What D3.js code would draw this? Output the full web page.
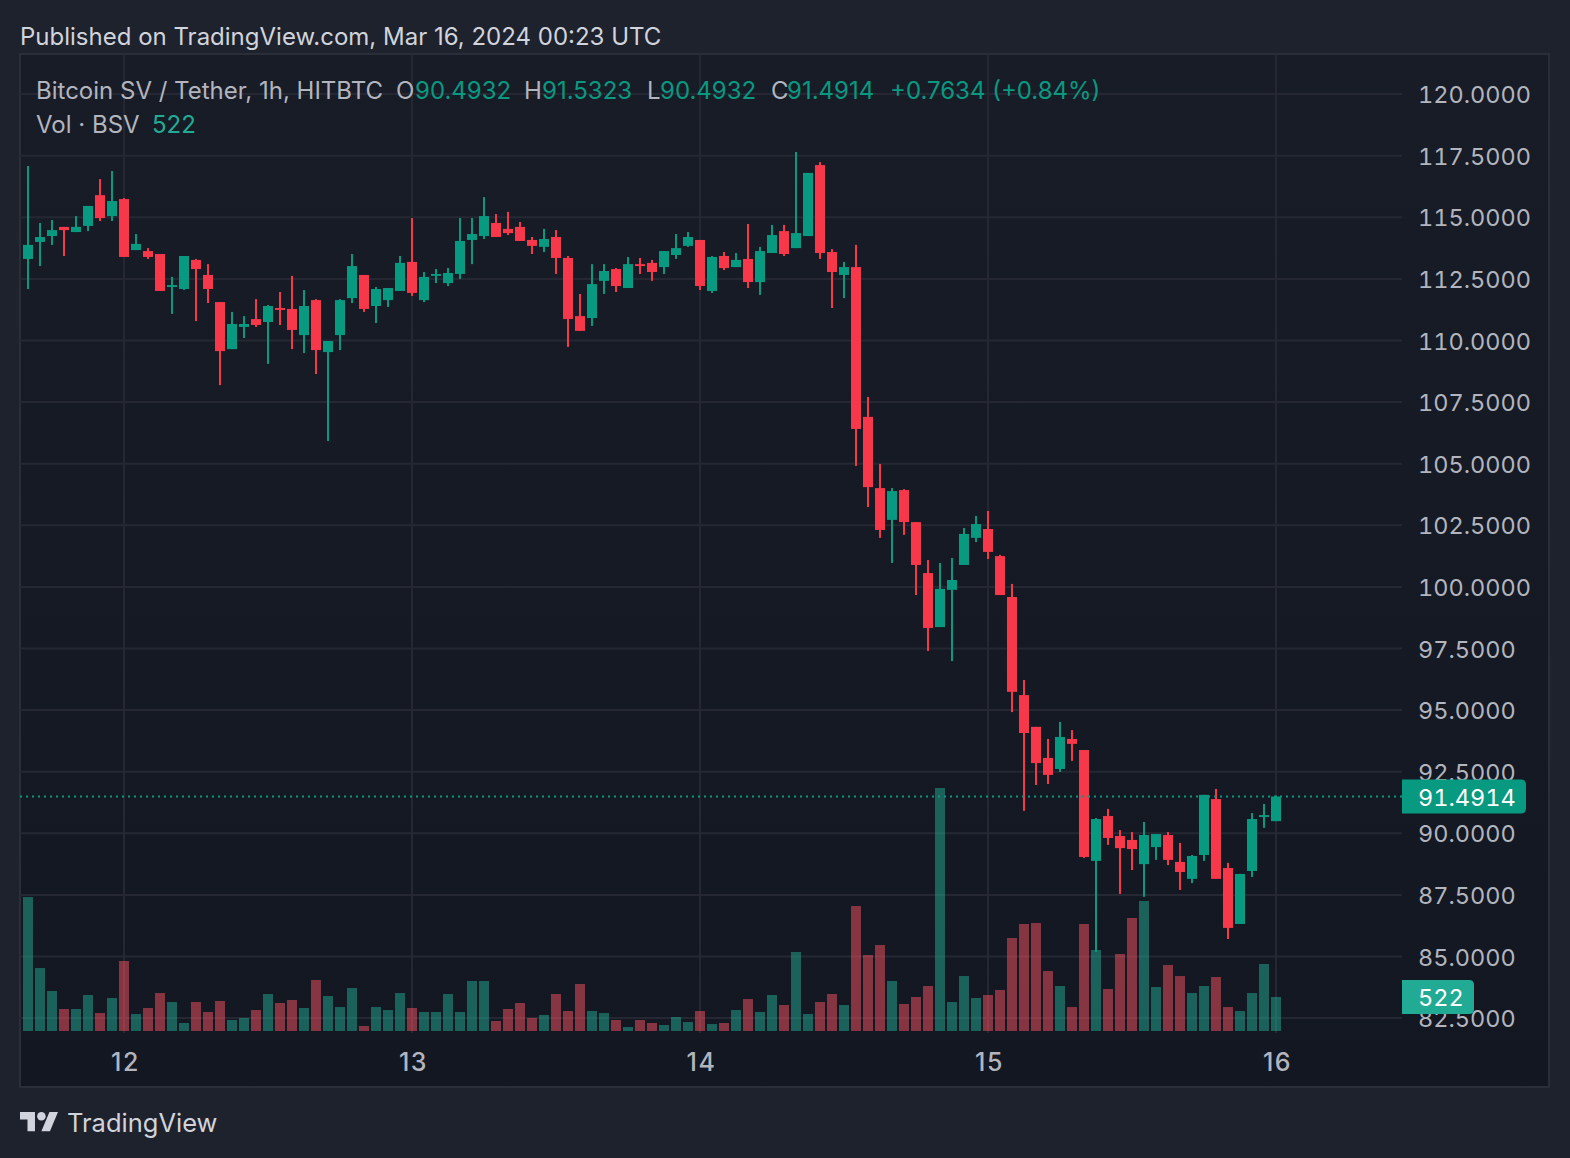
<!DOCTYPE html>
<html>
<head>
<meta charset="utf-8">
<script src="https://cdn.jsdelivr.net/npm/d3@7"></script>
<style>
  html, body { margin: 0; padding: 0; background: #1e222d; }
  svg { display: block; }
  text { font-family: Inter, "Noto Sans", sans-serif; }
  .price-text { font-variant-numeric: tabular-nums; }
  .domain { display: none; }
</style>
</head>
<body>
<svg id="drawsvg" width="1570" height="1158"></svg>
<script>
// hourly candles, Mar 11 16:00 -> Mar 16 00:00 UTC
var opens = [113.31,114.00,114.24,114.61,114.40,114.65,115.90,115.05,115.74,113.67,113.63,113.51,112.17,112.09,113.27,112.66,111.56,109.65,110.55,110.87,110.75,111.32,111.28,110.22,111.64,109.53,110.22,111.72,112.66,111.40,111.64,112.01,113.19,111.64,112.62,112.33,112.70,114.08,114.24,114.77,114.53,114.61,114.08,113.80,114.20,113.35,110.99,110.91,112.42,112.90,112.13,113.10,113.15,112.98,113.47,113.84,114.08,112.01,113.43,112.98,113.31,112.37,113.55,114.44,113.75,114.24,117.12,113.59,112.66,112.98,106.90,104.01,102.72,103.93,102.63,100.56,98.37,99.88,100.89,101.99,102.35,101.25,99.59,95.61,94.32,93.06,92.61,93.83,93.38,88.88,90.70,89.89,89.73,88.75,89.44,89.93,88.84,88.15,89.12,91.39,88.59,86.32,88.47,90.66,90.4932];
var highs = [117.08,114.77,114.89,114.61,115.05,115.46,116.55,116.88,115.78,114.32,113.75,113.51,112.58,113.43,113.31,113.10,111.56,111.16,110.99,111.68,111.44,111.97,112.62,112.05,111.68,109.98,111.68,113.51,112.66,112.17,112.13,113.43,114.97,112.78,112.90,112.94,114.97,114.97,115.82,115.13,115.22,114.81,114.20,114.53,114.48,113.43,111.89,113.10,113.10,112.94,113.39,113.35,113.27,113.63,114.32,114.40,114.08,113.43,113.59,113.55,114.73,113.80,114.69,114.69,117.65,116.80,117.24,113.71,113.19,113.88,107.71,104.99,104.01,103.97,102.63,101.09,100.97,101.17,102.39,102.88,103.08,101.30,100.12,96.22,94.32,93.83,94.52,94.19,93.38,90.62,90.99,90.13,90.05,90.46,89.97,90.05,89.61,89.12,91.56,91.80,88.80,88.35,90.82,91.19,91.5323];
var lows = [112.09,113.02,113.88,113.43,114.40,114.44,114.85,114.85,113.39,113.67,113.31,112.01,111.08,112.05,110.79,111.52,108.19,109.65,110.10,110.55,109.05,110.63,109.65,109.49,108.64,105.92,109.61,111.52,111.16,110.71,111.36,112.01,111.81,111.56,112.33,112.21,112.50,113.10,114.12,114.20,114.28,114.04,113.51,113.59,112.70,109.74,110.39,110.59,111.89,111.97,112.13,112.70,112.42,112.70,113.31,113.80,112.05,111.93,112.86,112.98,112.13,111.85,113.55,113.43,113.75,114.24,113.31,111.32,111.72,104.91,103.24,101.99,100.97,102.11,99.67,97.40,98.37,96.99,100.89,101.82,101.13,99.67,94.92,90.91,91.96,92.00,92.49,92.94,89.00,85.18,89.53,87.54,88.51,87.42,88.92,88.71,87.70,87.98,88.88,88.15,85.71,86.32,88.23,90.22,90.4932];
var closes = [113.88,114.20,114.48,114.48,114.61,115.46,114.97,115.66,113.39,113.92,113.39,112.01,112.25,113.43,112.90,112.09,109.57,110.67,110.67,110.63,111.40,111.24,110.43,111.40,109.61,109.98,111.64,113.02,111.28,112.09,112.13,113.15,111.93,112.58,112.70,112.74,114.04,114.32,115.05,114.20,114.36,114.04,113.84,114.12,113.35,110.87,110.39,112.29,112.82,112.21,113.10,113.02,112.78,113.63,113.75,114.20,112.21,113.39,112.94,113.27,112.37,113.63,114.28,113.51,114.36,116.80,113.55,112.78,112.98,106.41,104.05,102.31,103.89,102.63,100.89,98.33,99.92,100.28,102.15,102.55,101.42,99.67,95.74,94.07,92.85,92.37,93.91,93.63,89.04,90.58,89.81,89.40,89.36,89.93,89.97,88.92,88.43,89.08,91.56,88.15,86.16,88.35,90.58,90.74,91.4914];
var volumes = [2057,967,614,338,338,553,276,507,1075,261,353,583,445,123,445,292,461,169,200,322,568,430,476,353,783,537,368,660,77,368,322,583,353,292,292,568,292,768,768,154,338,430,200,246,568,307,722,307,276,169,61,169,123,92,215,138,307,107,123,322,491,292,553,399,1213,261,445,568,399,1919,1167,1320,768,415,522,691,3731,445,844,507,553,630,1428,1643,1658,921,691,368,1643,1244,645,1182,1735,1996,676,1013,844,583,691,829,368,307,583,1029,522];

var priceTicks = [120,117.5,115,112.5,110,107.5,105,102.5,100,97.5,95,92.5,90,87.5,85,82.5];
var dayIndex = [8,32,56,80,104];
var dayLabels = ['12','13','14','15','16'];

var upColor = '#089981', downColor = '#f7374a';
var volUp = 'rgba(34,171,148,0.5)', volDown = 'rgba(247,82,95,0.5)';
var gridColor = '#252833', textColor = '#b2b5be';
var lastPrice = closes[closes.length - 1], lastVol = volumes[volumes.length - 1];

var svg = d3.select('#drawsvg');

var xScale = d3.scaleLinear().domain([0, 104]).range([28, 1276]);
var yScale = d3.scaleLinear().domain([120, 82.5]).range([94.1, 1018.1]);
var volScale = d3.scaleLinear().domain([0, d3.max(volumes)]).range([1031, 788]);

var bodyWidth = 10, wickWidth = 2;
var paneL = 20, paneT = 54, paneR = 1549, paneB = 1087, plotR = 1402, axisT = 1033;

var defs = svg.append('defs');
var grad = defs.append('linearGradient').attr('id', 'paneGrad')
  .attr('x1', 0).attr('x2', 0).attr('y1', 0).attr('y2', 1);
grad.append('stop').attr('offset', '0%').attr('stop-color', '#181c27');
grad.append('stop').attr('offset', '100%').attr('stop-color', '#131722');

svg.append('rect').attr('width', 1570).attr('height', 1158).attr('fill', '#1e222d');

svg.append('rect')
  .attr('x', paneL).attr('y', paneT)
  .attr('width', paneR - paneL).attr('height', paneB - paneT)
  .attr('fill', 'url(#paneGrad)')
  .attr('stroke', '#2a2e39').attr('stroke-width', 2);

// grid
svg.append('g').selectAll('line').data(priceTicks).enter().append('line')
  .attr('x1', paneL).attr('x2', plotR)
  .attr('y1', function(d){ return yScale(d); })
  .attr('y2', function(d){ return yScale(d); })
  .style('stroke', gridColor).style('stroke-width', 2);

svg.append('g').selectAll('line').data(dayIndex).enter().append('line')
  .attr('x1', function(d){ return xScale(d); })
  .attr('x2', function(d){ return xScale(d); })
  .attr('y1', paneT).attr('y2', axisT)
  .style('stroke', gridColor).style('stroke-width', 2);

// volume
svg.append('g').selectAll('rect').data(volumes).enter().append('rect')
  .attr('x', function(d, i){ return xScale(i) - bodyWidth / 2; })
  .attr('width', bodyWidth)
  .attr('y', function(d){ return volScale(d); })
  .attr('height', function(d){ return volScale(0) - volScale(d); })
  .style('fill', function(d, i){ return closes[i] >= opens[i] ? volUp : volDown; });

// candles
var candle = svg.append('g').selectAll('g').data(opens).enter().append('g');
candle.append('rect')
  .attr('x', function(d, i){ return xScale(i) - wickWidth / 2; })
  .attr('width', wickWidth)
  .attr('y', function(d, i){ return yScale(highs[i]); })
  .attr('height', function(d, i){ return yScale(lows[i]) - yScale(highs[i]); })
  .style('fill', function(d, i){ return closes[i] >= opens[i] ? upColor : downColor; });
candle.append('rect')
  .attr('x', function(d, i){ return xScale(i) - bodyWidth / 2; })
  .attr('width', bodyWidth)
  .attr('y', function(d, i){ return yScale(Math.max(opens[i], closes[i])); })
  .attr('height', function(d, i){ return Math.max(1, Math.abs(yScale(opens[i]) - yScale(closes[i]))); })
  .style('fill', function(d, i){ return closes[i] >= opens[i] ? upColor : downColor; });

// last price line
svg.append('line')
  .attr('x1', paneL).attr('x2', plotR)
  .attr('y1', yScale(lastPrice)).attr('y2', yScale(lastPrice))
  .style('stroke', upColor).style('stroke-width', 2)
  .style('stroke-dasharray', '2 4');

// axes
var priceAxis = d3.axisRight(yScale)
  .tickValues(priceTicks)
  .tickSize(0)
  .tickPadding(16)
  .tickFormat(function(d){ return d.toFixed(4); });
svg.append('g').attr('transform', 'translate(' + plotR + ',1)').call(priceAxis)
  .selectAll('text')
  .attr('class', 'price-text')
  .style('font-size', '23.5px')
  .style('fill', textColor);

var timeAxis = d3.axisBottom(xScale)
  .tickValues(dayIndex)
  .tickSize(0)
  .tickPadding(15)
  .tickFormat(function(d, i){ return dayLabels[i]; });
svg.append('g').attr('transform', 'translate(1,' + 1038 + ')').call(timeAxis)
  .selectAll('text')
  .style('font-size', '25px').style('font-weight', 500).style('letter-spacing', '1.5px')
  .style('fill', textColor);

function drawTag(x2, y1, y2, color, label){
  var r = 5;
  svg.append('path')
    .attr('d', 'M' + plotR + ',' + y1 + 'H' + (x2 - r) + 'Q' + x2 + ',' + y1 + ' ' + x2 + ',' + (y1 + r) +
      'V' + (y2 - r) + 'Q' + x2 + ',' + y2 + ' ' + (x2 - r) + ',' + y2 + 'H' + plotR + 'Z')
    .style('fill', color);
  svg.append('text').text(label)
    .attr('class', 'price-text')
    .attr('x', 1418).attr('y', (y1 + y2) / 2 + 9)
    .style('font-size', '23.5px').style('fill', '#ffffff');
}
drawTag(1526, yScale(lastPrice) - 17, yScale(lastPrice) + 17, upColor, lastPrice.toFixed(4));
drawTag(1474, 980, 1014, '#22ab94', String(lastVol));

// header + legend
function label(x, y, s, color, size, spacing){
  return svg.append('text').text(s).attr('x', x).attr('y', y)
    .style('font-size', (size || 24) + 'px')
    .style('letter-spacing', (spacing || 0) + 'px')
    .style('fill', color);
}
label(20, 44.5, 'Published on TradingView.com, Mar 16, 2024 00:23 UTC', '#d1d4dc');
label(36, 99, 'Bitcoin SV / Tether, 1h, HITBTC', textColor);
label(396, 99, 'O', textColor);
label(415, 99, '90.4932', upColor);
label(524, 99, 'H', textColor);
label(542, 99, '91.5323', upColor);
label(647, 99, 'L', textColor);
label(660, 99, '90.4932', upColor);
label(771, 99, 'C', textColor);
label(787, 99, '91.4914', upColor);
label(890, 99, '+0.7634 (+0.84%)', upColor);
label(36, 133, 'Vol · BSV', textColor);
label(152, 133, '522', '#22ab94');

// logo
var logo = svg.append('g').attr('transform', 'translate(20,1107.7) scale(1.07)').style('fill', '#d1d4dc');
logo.append('path').attr('d', 'M14 22H7V11H0V4h14v18zM28 22h-8l7.5-18h8L28 22z');
logo.append('circle').attr('cx', 20).attr('cy', 8).attr('r', 4);
label(67, 1132, 'TradingView', '#d1d4dc', 25.5);
</script>
</body>
</html>
